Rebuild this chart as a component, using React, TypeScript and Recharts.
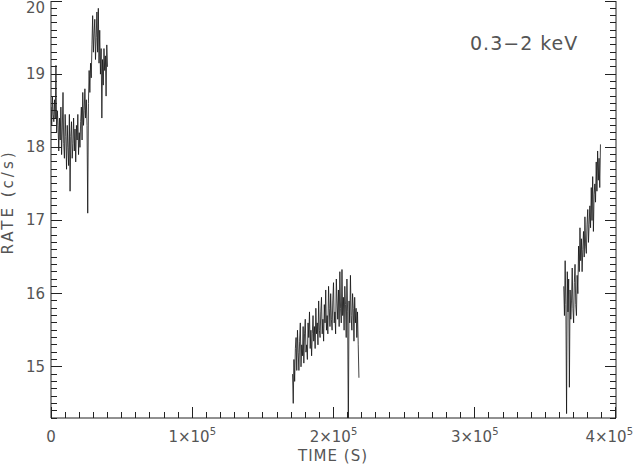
import React from 'react';
import { LineChart, Line, XAxis, YAxis } from 'recharts';

// light curve, 500 s bins
const BIN = 500;

const seg1Start = 0;
const seg1Rates = [
  18.55, 18.3, 18.7, 18.45, 18.35, 18.65, 18.4, 19.12, 18.2, 18.5,
  18.3, 17.95, 18.4, 18.1, 18.55, 17.9, 18.25, 18.75, 18.05, 17.85,
  18.45, 18.15, 17.7, 18.3, 18.0, 17.75, 18.45, 17.4, 18.15, 18.35,
  17.85, 18.05, 18.4, 17.95, 18.25, 17.8, 18.3, 18.1, 18.45, 17.9,
  18.2, 18.0, 18.35, 18.55, 18.1, 18.75, 18.3, 18.5, 18.8, 18.4,
  18.65, 18.3, 17.1, 18.6, 19.05, 18.75, 19.15, 18.95, 19.4, 19.8,
  19.3, 19.55, 19.75, 19.2, 19.5, 19.85, 19.3, 19.9, 19.15, 19.6,
  19.0, 19.35, 18.4, 19.2, 18.85, 19.35, 19.05, 19.25, 18.7, 19.4,
  19.1,
];

const seg2Start = 171000;
const seg2Rates = [
  14.9, 14.5, 15.1, 14.8, 15.25, 15.4, 14.95, 15.5, 15.2, 14.95,
  15.35, 15.6, 15.0, 15.3, 15.15, 15.55, 15.05, 15.45, 15.65, 15.2,
  15.3, 15.1, 15.6, 15.4, 15.75, 15.25, 15.5, 15.15, 15.45, 15.7,
  15.35, 15.55, 15.25, 15.8, 15.45, 15.6, 15.3, 15.9, 15.5, 15.4,
  15.75, 15.95, 15.45, 15.65, 15.35, 15.85, 15.6, 16.05, 15.5, 15.7,
  15.45, 16.1, 15.8, 15.55, 16.0, 15.65, 15.5, 15.9, 16.15, 15.6,
  15.75, 15.45, 16.2, 15.9, 15.65, 16.05, 15.55, 16.3, 15.8, 15.6,
  16.33, 15.7, 15.95, 15.5, 16.1, 15.85, 15.4, 16.2, 15.75, 14.1,
  15.9, 15.6, 16.25, 15.7, 15.5, 16.0, 15.8, 15.35, 15.95, 15.6,
  15.8, 15.4, 15.75, 15.3, 14.85,
];

const seg3Start = 363000;
const seg3Rates = [
  16.1, 15.7, 16.45, 15.85, 14.36, 16.3, 15.75, 16.2, 14.72, 16.05,
  15.65, 15.9, 16.35, 15.8, 15.6, 16.15, 16.4, 15.85, 15.7, 16.25,
  16.0, 16.65, 16.3, 16.9, 16.45, 16.75, 16.3, 16.6, 16.85, 16.5,
  17.05, 16.65, 16.55, 16.95, 17.15, 16.7, 16.95, 17.2, 16.9, 17.45,
  17.0, 17.6, 16.85, 17.35, 17.5, 17.25, 17.8, 17.4, 17.95, 17.55,
  17.85, 17.45, 18.04,
];

const xMajor = [0, 100000, 200000, 300000, 400000];
const xMajorLabels = ['0', '1', '2', '3', '4'];
const yMajor = [15, 16, 17, 18, 19, 20];
const xDomain: [number, number] = [0, 400000];
const yDomain: [number, number] = [14.3, 20];

type Row = { t: number; rate: number | null };
const segments: [number, number[]][] = [
  [seg1Start, seg1Rates],
  [seg2Start, seg2Rates],
  [seg3Start, seg3Rates],
];
const rows: Row[] = [];
segments.forEach(([start, rates], k) => {
  if (k > 0) rows.push({ t: start - BIN / 2, rate: null });
  rates.forEach((r, i) => rows.push({ t: start + i * BIN, rate: r }));
});

const xTicks = Array.from({ length: 41 }, (_, i) => i * 10000);
const yTicks = Array.from({ length: 58 }, (_, i) => Math.round((14.3 + i * 0.1) * 10) / 10);

const AXIS = '#222';
const TEXT = '#555';
const FONT = "'DejaVu Sans', sans-serif";

const isMajorY = (v: number) => yMajor.some(m => Math.abs(m - v) < 1e-6);
const px = (v: number) => Math.floor(v); // snap 1px marks to whole pixels

// inward tick marks drawn as 1px rects, labels as text
const BottomTick = (props: any) => {
  const x = Number(props.x);
  const y = Number(props.y);
  const v = props.payload.value;
  const idx = xMajor.indexOf(v);
  const major = idx >= 0;
  const last = idx === xMajor.length - 1;
  const len = major ? 11 : 6;
  return (
    <g>
      <rect x={Math.min(px(x), 615)} y={Math.round(y) - len} width={1} height={len} fill={AXIS} shapeRendering="crispEdges" />
      {major && (
        <text
          x={last ? 633 : x}
          y={y + 24}
          textAnchor={last ? 'end' : 'middle'}
          fontSize={15}
          fill={TEXT}
          stroke="none"
          fontFamily={FONT}
        >
          {v === 0 ? (
            '0'
          ) : (
            <>
              {xMajorLabels[idx]}×10
              <tspan dy={-7} fontSize={10}>5</tspan>
            </>
          )}
        </text>
      )}
    </g>
  );
};

const TopTick = (props: any) => {
  const x = Number(props.x);
  const y = Number(props.y);
  const len = xMajor.includes(props.payload.value) ? 11 : 6;
  return <rect x={Math.min(px(x), 615)} y={Math.round(y)} width={1} height={len} fill={AXIS} shapeRendering="crispEdges" />;
};

const LeftTick = (props: any) => {
  const x = Number(props.x);
  const y = Number(props.y);
  const v = props.payload.value;
  const major = isMajorY(v);
  const len = major ? 11 : 6;
  return (
    <g>
      <rect x={Math.round(x)} y={Math.max(px(y), 1)} width={len} height={1} fill={AXIS} shapeRendering="crispEdges" />
      {major && (
        <text x={x - 6} y={Math.max(y + 5, 13)} textAnchor="end" fontSize={15} fill={TEXT} stroke="none" fontFamily={FONT}>
          {Math.round(v)}
        </text>
      )}
    </g>
  );
};

const RightTick = (props: any) => {
  const x = Number(props.x);
  const y = Number(props.y);
  const len = isMajorY(props.payload.value) ? 11 : 6;
  return <rect x={Math.round(x) - len} y={Math.max(px(y), 1)} width={len} height={1} fill={AXIS} shapeRendering="crispEdges" />;
};

export default function App() {
  return (
    <div style={{ position: 'absolute', left: 0, top: 0, width: 634, height: 464, background: '#fff' }}>
      <LineChart width={634} height={464} data={rows} margin={{ top: 1, right: 0, bottom: 0, left: 0 }}>
        <XAxis
          dataKey="t"
          type="number"
          domain={xDomain}
          allowDataOverflow
          ticks={xTicks}
          interval={0}
          tickSize={0}
          tickMargin={0}
          tickLine={false}
          tick={<BottomTick />}
          axisLine={{ stroke: AXIS }}
          height={46}
        />
        <XAxis
          xAxisId="top"
          orientation="top"
          dataKey="t"
          type="number"
          domain={xDomain}
          allowDataOverflow
          ticks={xTicks}
          interval={0}
          tickSize={0}
          tickMargin={0}
          tickLine={false}
          tick={<TopTick />}
          axisLine={{ stroke: AXIS }}
          height={0}
        />
        <YAxis
          type="number"
          domain={yDomain}
          allowDataOverflow
          ticks={yTicks}
          interval={0}
          tickSize={0}
          tickMargin={0}
          tickLine={false}
          tick={<LeftTick />}
          axisLine={{ stroke: AXIS }}
          width={51}
        />
        <YAxis
          yAxisId="right"
          orientation="right"
          type="number"
          domain={yDomain}
          allowDataOverflow
          ticks={yTicks}
          interval={0}
          tickSize={0}
          tickMargin={0}
          tickLine={false}
          tick={<RightTick />}
          axisLine={{ stroke: AXIS }}
          width={18}
        />
        <Line
          dataKey="rate"
          stroke="#111"
          strokeWidth={0.8}
          dot={false}
          connectNulls={false}
          isAnimationActive={false}
        />
        <text x={8} y={202} transform="rotate(-90 8 202)" textAnchor="middle" dominantBaseline="middle"
          fontSize={15} fill={TEXT} fontFamily={FONT} letterSpacing={3}>
          RATE (c/s)
        </text>
        <text x={333} y={461} textAnchor="middle" fontSize={15} fill={TEXT} fontFamily={FONT} letterSpacing={1}>
          TIME (S)
        </text>
        <text x={470} y={50} fontSize={19} fill={TEXT} fontFamily={FONT} letterSpacing={1}>
          0.3−2 keV
        </text>
      </LineChart>
    </div>
  );
}
